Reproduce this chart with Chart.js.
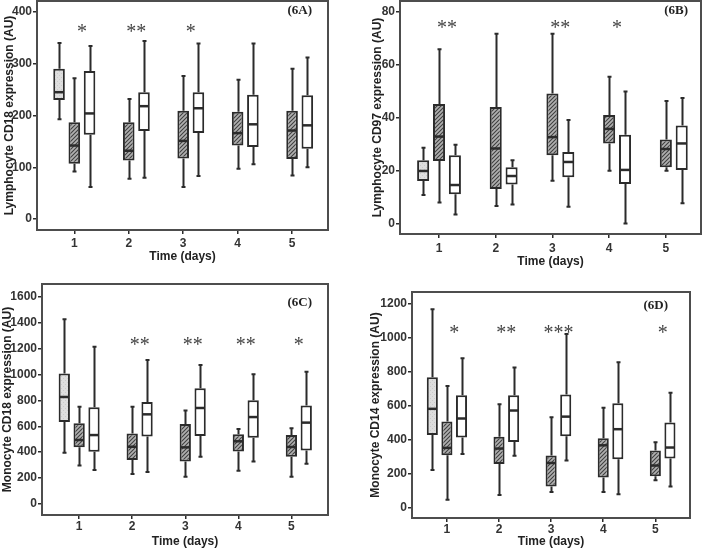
<!DOCTYPE html>
<html>
<head>
<meta charset="utf-8">
<script src="https://cdn.jsdelivr.net/npm/chart.js@4.4.1/dist/chart.umd.min.js"></script>
<style>
body{margin:0;background:#fff;}
#wrap{position:relative;width:705px;height:550px;overflow:hidden;background:#fff;}
canvas{position:absolute;}
</style>
</head>
<body>
<div id="wrap">
<canvas id="c6A" width="352" height="275" style="left:0;top:0"></canvas>
<canvas id="c6B" width="350" height="275" style="left:355px;top:0"></canvas>
<canvas id="c6C" width="352" height="275" style="left:0;top:275px"></canvas>
<canvas id="c6D" width="350" height="275" style="left:355px;top:275px"></canvas>
</div>
<script>
const days = [1, 2, 3, 4, 5];

// every box is [min, q1, median, q3, max]
// 6A lymphocyte CD18
const aControl = [[193, 230, 245, 290, 340]];
const aHatched = [[92, 107, 142, 187, 272], [78, 113, 132, 187, 232], [62, 117, 151, 209, 276], [97, 142, 166, 207, 269], [84, 116, 171, 209, 290]];
const aOpen = [[62, 163, 204, 286, 334], [80, 170, 218, 245, 344], [83, 166, 214, 245, 339], [106, 139, 183, 240, 339], [100, 136, 181, 239, 312]];
const aStars = ['*', '**', '*', '', ''];
const aStarLevel = 368;
const aTicks = [0, 100, 200, 300, 400];

// 6B lymphocyte CD97
const bControl = [[10.7, 16, 19.8, 23.9, 28.6]];
const bHatched = [[7.9, 23.6, 32.8, 45.1, 65.8], [6.6, 13, 28.3, 44, 71.6], [16.1, 25.7, 32.6, 49.1, 71.6], [19.9, 30.2, 35.7, 40.9, 55.4], [19.9, 21.2, 28.1, 31.7, 46.2]];
const bOpen = [[3.4, 11, 14.5, 25.7, 29.7], [7.1, 14.7, 17.9, 21.2, 23.9], [6.3, 17.4, 23.2, 27, 39.1], [0, 14.9, 20.2, 33.5, 49.8], [7.6, 20.2, 30.2, 37, 47.4]];
const bStars = ['**', '', '**', '*', ''];
const bStarLevel = 75;
const bTicks = [0, 20, 40, 60, 80];

// 6C monocyte CD18
const cControl = [[396, 633, 826, 1008, 1425]];
const cHatched = [[298, 437, 494, 623, 751], [232, 340, 442, 545, 751], [211, 327, 437, 617, 722], [257, 406, 484, 538, 579], [211, 365, 440, 532, 584]];
const cOpen = [[262, 404, 532, 746, 1214], [247, 520, 692, 787, 1111], [365, 525, 741, 893, 1073], [327, 512, 671, 800, 1001], [311, 412, 628, 761, 1021]];
const cStars = ['', '**', '**', '**', '*'];
const cStarLevel = 1256;
const cTicks = [0, 200, 400, 600, 800, 1000, 1200, 1400, 1600];

// 6D monocyte CD14
const dControl = [[220, 426, 580, 766, 1167]];
const dHatched = [[45, 306, 350, 505, 715], [73, 255, 346, 415, 607], [90, 122, 261, 305, 530], [90, 175, 365, 407, 587], [159, 183, 246, 334, 383]];
const dOpen = [[314, 411, 523, 660, 878], [303, 385, 570, 660, 823], [275, 418, 534, 664, 1020], [77, 283, 460, 613, 855], [122, 287, 352, 499, 674]];
const dStars = ['*', '**', '***', '', '*'];
const dStarLevel = 1046;
const dTicks = [0, 200, 400, 600, 800, 1000, 1200];

const INK = '#2b2b2b';
const STAR_SIZE = 20;

function makePattern(kind){
    const c = document.createElement('canvas');
    c.width = 4; c.height = 4;
    const g = c.getContext('2d');
    if (kind === 'hatch') {
        g.fillStyle = '#b0b0b0';
        g.fillRect(0, 0, 4, 4);
        g.strokeStyle = '#404040';
        g.lineWidth = 1.1;
        g.beginPath();
        g.moveTo(0, 4); g.lineTo(4, 0);
        g.moveTo(-1, 1); g.lineTo(1, -1);
        g.moveTo(3, 5); g.lineTo(5, 3);
        g.stroke();
    } else {
        g.fillStyle = '#dedede';
        g.fillRect(0, 0, 4, 4);
        g.fillStyle = '#cacaca';
        g.fillRect(1, 1, 1, 1);
        g.fillRect(3, 3, 1, 1);
    }
    return g.createPattern(c, 'repeat');
}

const boxExtras = {
    id: 'boxExtras',
    afterDatasetsDraw(chart){
        const ctx = chart.ctx;
        const ys = chart.scales.y;
        ctx.save();
        ctx.strokeStyle = INK;
        chart.data.datasets.forEach((ds, i) => {
            chart.getDatasetMeta(i).data.forEach((bar, j) => {
                const s = ds.stats[j];
                const cx = Math.round(bar.x) + 0.5;
                const half = bar.width / 2;
                ctx.lineWidth = 2;
                ctx.beginPath();
                ctx.moveTo(cx, ys.getPixelForValue(s[4]));
                ctx.lineTo(cx, ys.getPixelForValue(s[3]));
                ctx.moveTo(cx, ys.getPixelForValue(s[1]));
                ctx.lineTo(cx, ys.getPixelForValue(s[0]));
                ctx.moveTo(cx - 2, ys.getPixelForValue(s[4]));
                ctx.lineTo(cx + 2, ys.getPixelForValue(s[4]));
                ctx.moveTo(cx - 2, ys.getPixelForValue(s[0]));
                ctx.lineTo(cx + 2, ys.getPixelForValue(s[0]));
                ctx.stroke();
                ctx.lineWidth = 2.5;
                ctx.beginPath();
                ctx.moveTo(bar.x - half + 1, ys.getPixelForValue(s[2]));
                ctx.lineTo(bar.x + half - 1, ys.getPixelForValue(s[2]));
                ctx.stroke();
            });
        });
        ctx.restore();
    },
    afterDraw(chart, args, opts){
        const ctx = chart.ctx;
        const a = chart.chartArea;
        const xs = chart.scales.x, ys = chart.scales.y;
        ctx.save();
        ctx.strokeStyle = '#4d4d4d';
        ctx.lineWidth = 2;
        ctx.strokeRect(a.left, a.top, a.right - a.left, a.bottom - a.top);

        // significance marks
        ctx.fillStyle = '#444';
        ctx.font = STAR_SIZE + 'px "Liberation Serif"';
        ctx.textAlign = 'center';
        ctx.textBaseline = 'alphabetic';
        opts.stars.forEach((s, i) => {
            if (!s) return;
            ctx.fillText(s, xs.getPixelForValue(days[i] + 0.14), ys.getPixelForValue(opts.starLevel) + STAR_SIZE * 0.47);
        });

        ctx.fillStyle = '#222';
        ctx.font = 'bold 13px "Liberation Serif"';
        ctx.textAlign = 'right';
        ctx.textBaseline = 'middle';
        ctx.fillText(opts.tag, a.right - opts.tagAt[0], a.top + opts.tagAt[1]);
        ctx.restore();
    }
};

function boxPanel(id, p){
    const toBars = rows => rows.map((r, i) => ({x: days[i], y: [r[1], r[3]]}));
    const tickFont = {family: 'Liberation Sans', size: 12, weight: 'bold'};
    const common = {
        borderColor: INK,
        borderWidth: 2,
        borderSkipped: false,
        categoryPercentage: 0.84,
        barPercentage: 0.76
    };
    new Chart(document.getElementById(id), {
        type: 'bar',
        data: {
            datasets: [
                Object.assign({data: toBars(p.control), stats: p.control, backgroundColor: makePattern('dots')}, common),
                Object.assign({data: toBars(p.hatched), stats: p.hatched, backgroundColor: makePattern('hatch')}, common),
                Object.assign({data: toBars(p.open), stats: p.open, backgroundColor: '#ffffff'}, common)
            ]
        },
        options: {
            responsive: false,
            animation: false,
            events: [],
            layout: {padding: p.pad},
            plugins: {
                legend: {display: false},
                tooltip: {enabled: false},
                boxExtras: {stars: p.stars, starLevel: p.starLevel, tag: p.tag, tagAt: p.tagAt}
            },
            scales: {
                x: {
                    type: 'linear',
                    min: p.xRange[0],
                    max: p.xRange[1],
                    offset: false,
                    afterBuildTicks: s => { s.ticks = days.map(v => ({value: v})); },
                    afterFit: s => { s.height = p.xHeight; s.paddingLeft = 0; s.paddingRight = 0; },
                    grid: {offset: false, drawOnChartArea: false, drawTicks: true, tickLength: 4, color: INK, lineWidth: 1.5},
                    border: {display: false},
                    ticks: {font: tickFont, color: '#333', padding: p.xTickPad, maxRotation: 0, callback: v => String(v)},
                    title: {display: true, text: 'Time (days)', font: tickFont, color: '#222', padding: {top: 0, bottom: p.xTitlePad}}
                },
                y: {
                    min: p.yRange[0],
                    max: p.yRange[1],
                    afterBuildTicks: s => { s.ticks = p.ticks.map(v => ({value: v})); },
                    afterFit: s => { s.width = p.yWidth; s.paddingTop = 0; s.paddingBottom = 0; },
                    grid: {drawOnChartArea: false, drawTicks: true, tickLength: 4, color: INK, lineWidth: 1.5},
                    border: {display: false},
                    ticks: {font: tickFont, color: '#333', padding: 1, callback: v => String(v)},
                    title: {display: true, text: p.yTitle, font: tickFont, color: '#222', padding: {top: p.yTitlePad, bottom: 0}}
                }
            }
        },
        plugins: [boxExtras]
    });
}

boxPanel('c6A', {
    control: aControl, hatched: aHatched, open: aOpen, stars: aStars, starLevel: aStarLevel, ticks: aTicks,
    yTitle: 'Lymphocyte CD18 expression (AU)', tag: '(6A)', tagAt: [16, 10],
    yRange: [-21, 421], xRange: [0.315, 5.66],
    pad: {left: 0, top: 1, right: 24, bottom: 0}, yWidth: 37, xHeight: 45,
    yTitlePad: 2, xTickPad: 2, xTitlePad: 11
});
boxPanel('c6B', {
    control: bControl, hatched: bHatched, open: bOpen, stars: bStars, starLevel: bStarLevel, ticks: bTicks,
    yTitle: 'Lymphocyte CD97 expression (AU)', tag: '(6B)', tagAt: [13, 10],
    yRange: [-4, 84], xRange: [0.312, 5.62],
    pad: {left: 13, top: 1, right: 4, bottom: 0}, yWidth: 32, xHeight: 41,
    yTitlePad: 2, xTickPad: 3, xTitlePad: 6
});
boxPanel('c6C', {
    control: cControl, hatched: cHatched, open: cOpen, stars: cStars, starLevel: cStarLevel, ticks: cTicks,
    yTitle: 'Monocyte CD18 expression (AU)', tag: '(6C)', tagAt: [16, 19],
    yRange: [-85, 1698], xRange: [0.30, 5.69],
    pad: {left: 0, top: 9, right: 24, bottom: 0}, yWidth: 42, xHeight: 35,
    yTitlePad: 0, xTickPad: 0, xTitlePad: 1
});
boxPanel('c6D', {
    control: dControl, hatched: dHatched, open: dOpen, stars: dStars, starLevel: dStarLevel, ticks: dTicks,
    yTitle: 'Monocyte CD14 expression (AU)', tag: '(6D)', tagAt: [22, 14],
    yRange: [-63, 1268], xRange: [0.33, 5.665],
    pad: {left: 11, top: 17, right: 15, bottom: 0}, yWidth: 46, xHeight: 32,
    yTitlePad: 2, xTickPad: 0, xTitlePad: 1
});
</script>
</body>
</html>
